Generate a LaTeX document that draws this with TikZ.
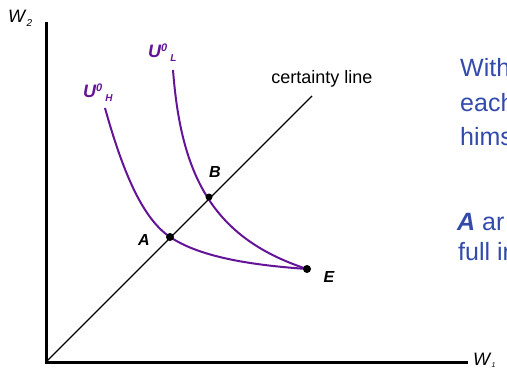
\documentclass[tikz,border=0pt]{standalone}
\usepackage{fontspec}
\setmainfont{Liberation Sans}
\definecolor{curvepurple}{RGB}{100,20,150}
\definecolor{textblue}{RGB}{50,75,170}
% utility label with superscript 0 and a lowered index
\newcommand{\ulab}[1]{\bfseries\itshape U\raisebox{6pt}{\fontsize{11}{11}\selectfont 0}\,\raisebox{-4pt}{\fontsize{10}{10}\selectfont #1}}

\begin{document}
\begin{tikzpicture}[x=1pt,y=-1pt,
    axis/.style={line width=3pt},
    indiff/.style={curvepurple,line width=2pt},
    dot/.style={circle,fill=black,inner sep=0pt,minimum size=8pt},
    ptlabel/.style={font=\fontsize{16}{16}\selectfont\bfseries\itshape,inner sep=0pt},
    ulabel/.style={font=\fontsize{18}{18}\selectfont,text=curvepurple,inner sep=0pt,anchor=base west},
    bluetext/.style={font=\fontsize{25}{25}\selectfont,text=textblue,inner sep=0pt,anchor=base west}]
    \useasboundingbox (0,0) rectangle (507,372);
    \clip (0,0) rectangle (507,372);

    % axes
    \coordinate (O) at (46,362);
    \coordinate (ytop) at (46,22);
    \coordinate (xend) at (468,362);
    \draw[axis] (ytop) -- (O) -- (xend);
    \node[inner sep=0pt,anchor=base west,font=\fontsize{18}{18}\selectfont] (w2) at (8,23) {\textit{W}\raisebox{-4pt}{\fontsize{10}{10}\selectfont\textit{2}}};
    \node[inner sep=0pt,anchor=base west,font=\fontsize{18}{18}\selectfont] (w1) at (473,365) {\textit{W}\raisebox{-2pt}{\fontsize{7}{7}\selectfont\textit{1}}};

    % certainty line
    \coordinate (cend) at (312,96);
    \draw[line width=1.2pt] (O) -- (cend);
    \node[inner sep=0pt,anchor=base,font=\fontsize{18}{18}\selectfont] (cert) at (322,83) {certainty line};

    % indifference curves
    \coordinate (A) at (170,237);
    \coordinate (B) at (209,197);
    \coordinate (E) at (307,269);
    \coordinate (Htop) at (105,108);
    \coordinate (Ltop) at (173,70);
    \draw[indiff] (Htop) .. controls (125,180) and (145,220) .. (A)
                         .. controls (200,257) and (250,265) .. (E);
    \draw[indiff] (Ltop) .. controls (181,175) and (212,238) .. (E);
    \node[ulabel] (uh) at (83,97) {\ulab{H}};
    \node[ulabel] (ul) at (148,57) {\ulab{L}};

    % points
    \node[dot] (dA) at (A) {};
    \node[dot,minimum size=7pt] (dB) at (B) {};
    \node[dot] (dE) at (E) {};
    \node[ptlabel] (lA) at (144,240) {A};
    \node[ptlabel] (lB) at (215,172) {B};
    \node[ptlabel] (lE) at (329,277) {E};

    % text on the right, cut at the edge as in the slide
    \node[bluetext] (t1) at (460,76) {With};
    \node[bluetext] (t2) at (460,111) {each};
    \node[bluetext] (t3) at (460,145) {hims};
    \node[bluetext] (t4) at (457,230) {\textbf{\textit{A}} ar};
    \node[bluetext] (t5) at (458,260) {full in};
\end{tikzpicture}
\end{document}
